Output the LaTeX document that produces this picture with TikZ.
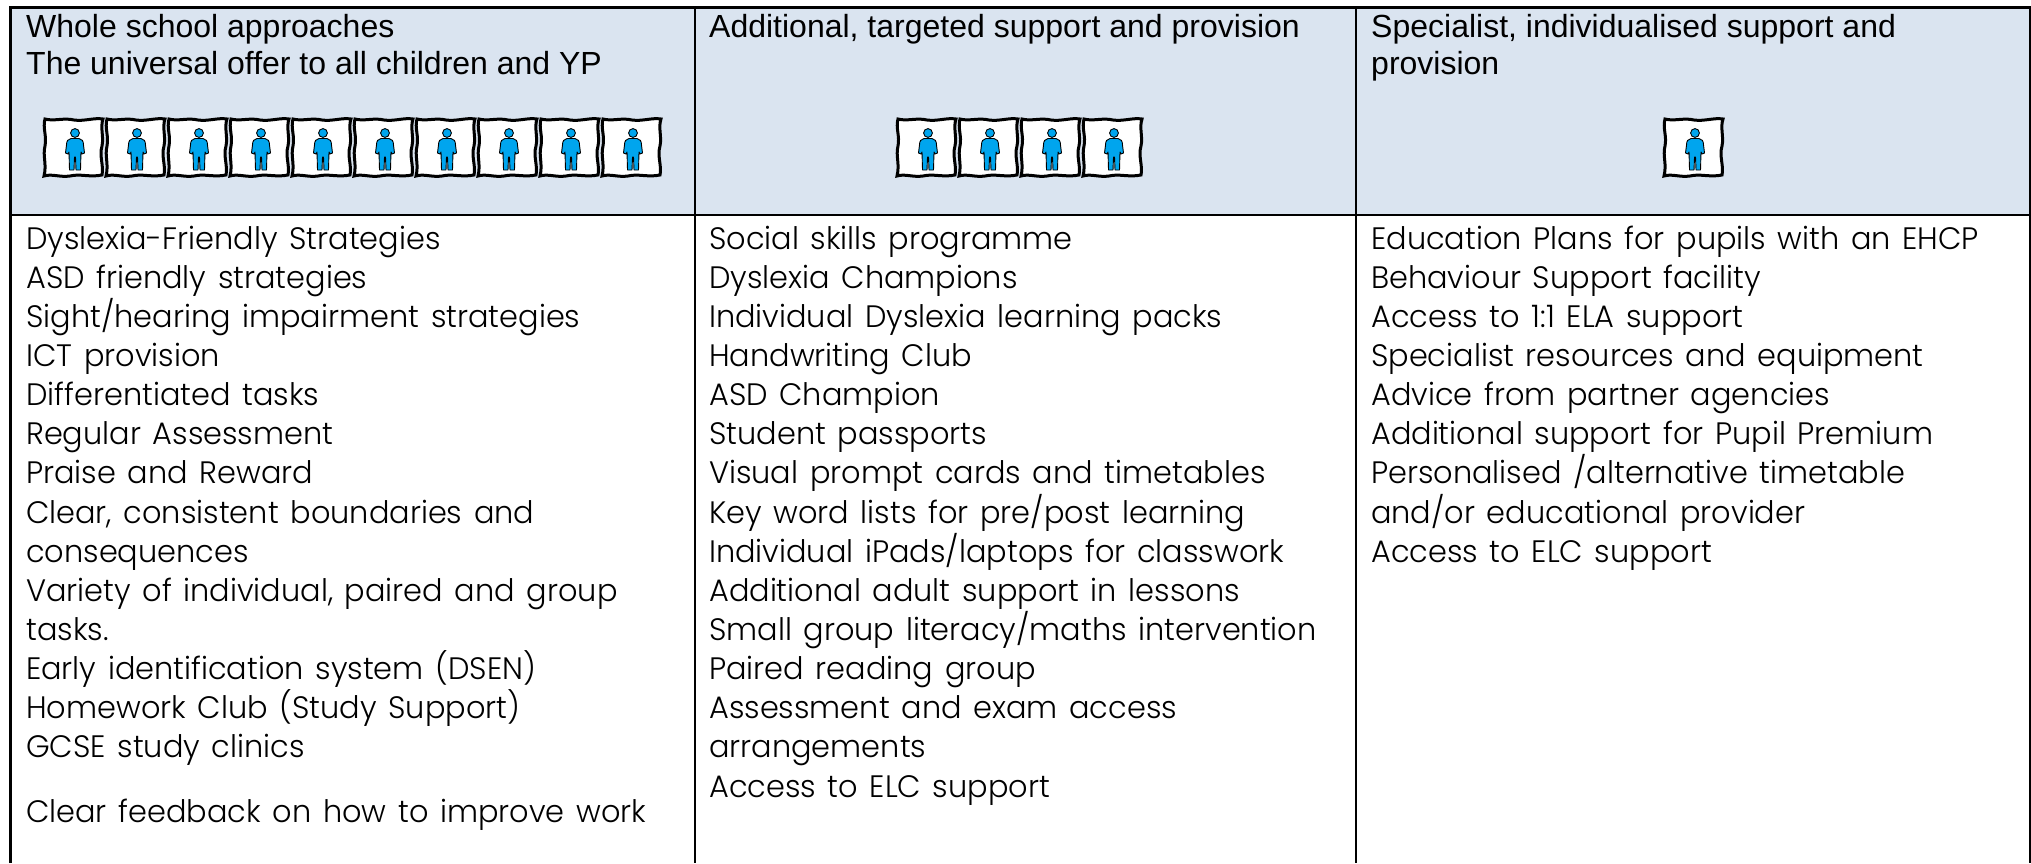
\documentclass[tikz,border=0pt]{standalone}
\usepackage{fontspec}
\setmainfont{Liberation Sans}
\newfontfamily\bodyfont{Poppins Light}[FakeStretch=0.98,WordSpace=1.4]
\definecolor{headbg}{HTML}{DAE4F0}
\definecolor{personblue}{HTML}{00A5EE}
\tikzset{
  x=1pt,y=-1pt,
  grid/.style={line width=2.3pt,black},
  headtext/.style={anchor=base west,inner sep=0pt,font=\fontsize{32}{32}\selectfont,text=black},
  bodytext/.style={anchor=base west,inner sep=0pt,font=\bodyfont\fontsize{31}{31}\selectfont,text=black},
  person/.pic={
    \draw[fill=white,line width=3pt,line join=miter]
      (1,1) .. controls (10,3.5) and (20,-0.5) .. (30,2) .. controls (40,3.5) and (50,-0.5) .. (59,1)
      .. controls (56,10) and (60,18) .. (58,28) .. controls (55,38) and (60,48) .. (58,57)
      .. controls (46,59.5) and (36,55.5) .. (26,58) .. controls (16,59.5) and (8,55.5) .. (0,58)
      .. controls (3,46) and (-1.5,38) .. (1,28) .. controls (3,18) and (-1.5,10) .. (1,1) -- cycle;
    \draw[fill=personblue,line width=0.9pt]
      (31,15) circle (4.4);
    \draw[fill=personblue,line width=0.9pt,line join=round]
      (27,20.5) -- (35,20.5) .. controls (38,21) and (39.5,23) .. (39.5,27) -- (40.5,35) -- (38,36)
      -- (37,34) -- (36.5,52) -- (32,52) -- (31.5,39) -- (30.5,39) -- (30,52) -- (25.5,52)
      -- (25,34) -- (24,36) -- (21.5,35) -- (22.5,27) .. controls (22.5,23) and (24,21) .. (27,20.5) -- cycle;
  }
}
\begin{document}
\begin{tikzpicture}
\useasboundingbox (0,0) rectangle (2031,863);
\fill[headbg] (10.5,7.5) rectangle (2030,215);
\coordinate (tl) at (10.5,7.5);
\coordinate (tr) at (2030,7.5);
\coordinate (hl) at (10.5,215);
\coordinate (hr) at (2030,215);
\coordinate (bl) at (10.5,863);
\coordinate (t1) at (695,7.5);
\coordinate (b1) at (695,863);
\coordinate (t2) at (1356,7.5);
\coordinate (b2) at (1356,863);
\coordinate (br) at (2030,863);
\draw[grid] (bl) -- (tl) -- (tr) -- (br);
\draw[grid] (hl) -- (hr);
\draw[grid] (t1) -- (b1);
\draw[grid] (t2) -- (b2);
% headers
\node[headtext] (h1a) at (26,37) {Whole school approaches};
\node[headtext] (h1b) at (26,74) {The universal offer to all children and YP};
\node[headtext] (h2a) at (709,37) {Additional, targeted support and provision};
\node[headtext] (h3a) at (1371,37) {Specialist, individualised support and};
\node[headtext] (h3b) at (1371,74) {provision};
% people
\foreach \i in {0,...,9} \pic at ({44+62*\i},118) {person};
\foreach \i in {0,...,3} \pic at ({897+62*\i},118) {person};
\pic at (1664,118) {person};
% column 1
\foreach \t [count=\i from 0] in {Dyslexia-Friendly Strategies,ASD friendly strategies,Sight/hearing impairment strategies,ICT provision,Differentiated tasks,Regular Assessment,Praise and Reward,{Clear, consistent boundaries and},consequences,{Variety of individual, paired and group},tasks.,Early identification system (DSEN),Homework Club (Study Support),GCSE study clinics}
  \node[bodytext] (a\i) at (26,{249+39.15*\i}) {\t};
\node[bodytext] (a14) at (26,822.5) {Clear feedback on how to improve work};
% column 2
\foreach \t [count=\i from 0] in {Social skills programme,Dyslexia Champions,Individual Dyslexia learning packs,Handwriting Club,ASD Champion,Student passports,Visual prompt cards and timetables,Key word lists for pre/post learning,Individual iPads/laptops for classwork,Additional adult support in lessons,Small group literacy/maths intervention,Paired reading group,Assessment and exam access,arrangements,Access to ELC support}
  \node[bodytext] (b\i) at (709,{249+39.15*\i}) {\t};
% column 3
\foreach \t [count=\i from 0] in {Education Plans for pupils with an EHCP,Behaviour Support facility,Access to 1:1 ELA support,Specialist resources and equipment,Advice from partner agencies,Additional support for Pupil Premium,Personalised /alternative timetable,and/or educational provider,Access to ELC support}
  \node[bodytext] (c\i) at (1371,{249+39.15*\i}) {\t};
\end{tikzpicture}
\end{document}
